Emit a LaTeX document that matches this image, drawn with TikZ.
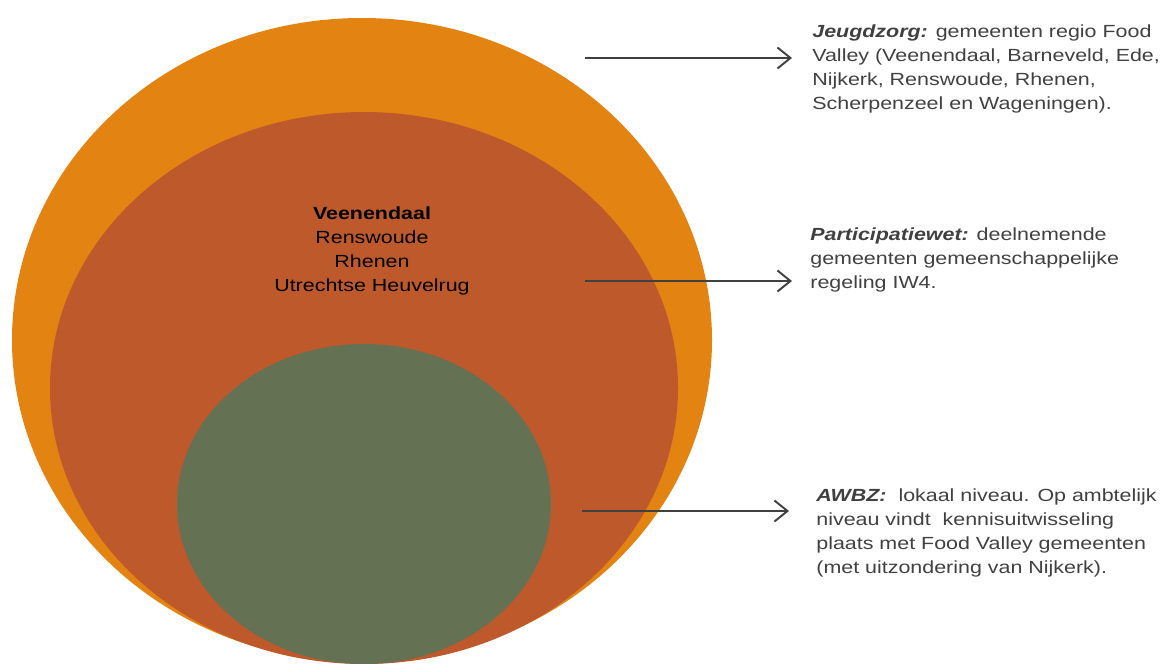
\documentclass[tikz,border=0pt]{standalone}
\usepackage{fontspec}
\setmainfont{Liberation Sans}[FakeStretch=1.22]
\usetikzlibrary{arrows.meta}
\definecolor{outerorange}{RGB}{227,131,18}
\definecolor{midbrown}{RGB}{190,89,44}
\definecolor{innergreen}{RGB}{100,113,82}
\definecolor{textgray}{RGB}{64,64,64}
\tikzset{
  pointer/.style={draw=textgray, line width=1.1pt, -{Straight Barb[length=2.6mm, width=4.2mm]}},
  note/.style={anchor=north west, align=left, inner sep=0pt, text=textgray, font=\fontsize{10}{13.8}\selectfont},
  names/.style={align=center, inner sep=0pt, font=\fontsize{10}{13.8}\selectfont}
}
\begin{document}
\begin{tikzpicture}[x=0.02cm, y=-0.02cm]
    \useasboundingbox (0,0) rectangle (1168,663);
    % Three nested levels
    \fill[outerorange] (362,340) ellipse [x radius=350, y radius=322];
    \fill[midbrown] (364,388) ellipse [x radius=314, y radius=276];
    \fill[innergreen] (364,504) ellipse [x radius=187, y radius=160];

    \node[names] (gemeenten) at (372,251) {\textbf{Veenendaal}\\Renswoude\\Rhenen\\Utrechtse Heuvelrug};

    % Explanations on the right
    \node[note] (jeugd) at (812,24) {{\bfseries\itshape Jeugdzorg:} gemeenten regio Food\\Valley (Veenendaal, Barneveld, Ede,\\Nijkerk, Renswoude, Rhenen,\\Scherpenzeel en Wageningen).};
    \node[note] (particip) at (810,227) {{\bfseries\itshape Participatiewet:} deelnemende\\gemeenten gemeenschappelijke\\regeling IW4.};
    \node[note] (awbz) at (816,488) {{\bfseries\itshape AWBZ:}\ \ lokaal niveau. Op ambtelijk\\niveau vindt\ \ kennisuitwisseling\\plaats met Food Valley gemeenten\\(met uitzondering van Nijkerk).};

    \coordinate (jeugdstart) at (585,58);
    \coordinate (jeugdend) at (792,58);
    \coordinate (participstart) at (585,281);
    \coordinate (participend) at (792,281);
    \coordinate (awbzstart) at (582,511);
    \coordinate (awbzend) at (789,511);
    \draw[pointer] (jeugdstart) -- (jeugdend);
    \draw[pointer] (participstart) -- (participend);
    \draw[pointer] (awbzstart) -- (awbzend);
\end{tikzpicture}
\end{document}
